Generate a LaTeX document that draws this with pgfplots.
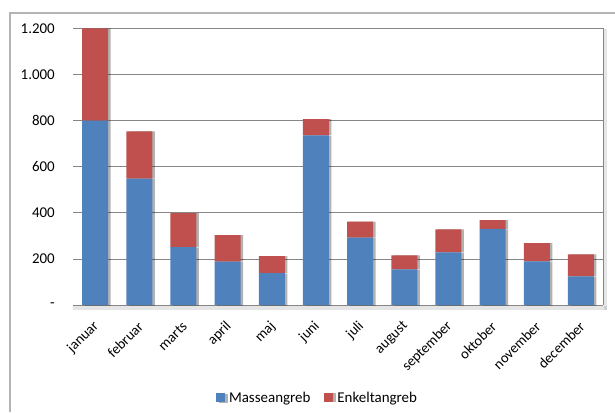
\documentclass[border=0pt]{standalone}
\usepackage{pgfplots}
\pgfplotsset{compat=1.18}
\usepackage{fontspec}
\setmainfont{Carlito}
\usetikzlibrary{shadows}
\definecolor{mblue}{RGB}{79,129,189}
\definecolor{ered}{RGB}{192,80,77}
\definecolor{gridc}{RGB}{134,134,134}
\definecolor{borderc}{RGB}{180,180,180}
\pgfplotstableread{
x masse enkelt
0 800 400
1 548 205
2 251 148
3 188 115
4 138 74
5 736 71
6 292 70
7 155 60
8 228 100
9 330 38
10 189 80
11 124 96
}\datatable
\begin{document}
\begin{tikzpicture}[x=1bp,y=1bp]
\useasboundingbox (0,0) rectangle (615,412);
\draw[borderc, line width=1.3bp] (10,0) -- (10,399) -- (615,399);
% shadows of plot frame
\fill[black, opacity=0.10] (73,102.5) rectangle (606.5,106.5);
\fill[black, opacity=0.10] (603.5,102.5) rectangle (606.5,383);
\begin{axis}[
  at={(73bp,107bp)}, anchor=south west,
  scale only axis, width=530bp, height=276.5bp,
  ymin=0, ymax=1200, xmin=-0.5, xmax=11.5,
  ybar stacked, bar width=26bp,
  axis x line*=bottom, axis y line*=left,
  x axis line style={gridc, line width=1bp, -},
  y axis line style={draw=none},
  tick style={draw=none},
  ymajorgrids, grid style={gridc, line width=0.8bp},
  ytick={0,200,400,600,800,1000,1200},
  yticklabels={-\hspace{7.5bp},200,400,600,800,{1.000},{1.200}},
  xtick={0,1,2,3,4,5,6,7,8,9,10,11},
  xticklabels={januar,februar,marts,april,maj,juni,juli,august,september,oktober,november,december},
  y tick label style={anchor=east, inner sep=0pt, xshift=-18bp, font=\fontsize{15}{17}\selectfont},
  x tick label style={xshift=1.5bp, yshift=-19bp, rotate=45, anchor=east, inner sep=0pt, font=\fontsize{14.5}{17}\selectfont},
  legend style={at={(0.4613,-0.3363)}, anchor=center, draw=none, fill=none,
    font=\fontsize{15}{17}\selectfont, legend columns=2,
    /tikz/every even column/.append style={column sep=12bp}},
]
\addplot[fill=mblue, draw=none,
  drop shadow={shadow xshift=2.5bp, shadow yshift=-0.5bp, opacity=0.3, fill=black},
  legend image code/.code={\fill[mblue] (0bp,-4.5bp) rectangle (9bp,4.5bp);}]
  table[x=x, y=masse] {\datatable};
\addlegendentry{\hspace{2bp}Masseangreb}
\addplot[fill=ered, draw=none,
  drop shadow={shadow xshift=2.5bp, shadow yshift=0bp, opacity=0.3, fill=black},
  legend image code/.code={\fill[ered] (0bp,-4.5bp) rectangle (9bp,4.5bp);}]
  table[x=x, y=enkelt] {\datatable};
\addlegendentry{\hspace{2bp}Enkeltangreb}
\end{axis}
\draw[gridc, line width=1bp] (603,107) -- (603,383.5);
\end{tikzpicture}
\end{document}
